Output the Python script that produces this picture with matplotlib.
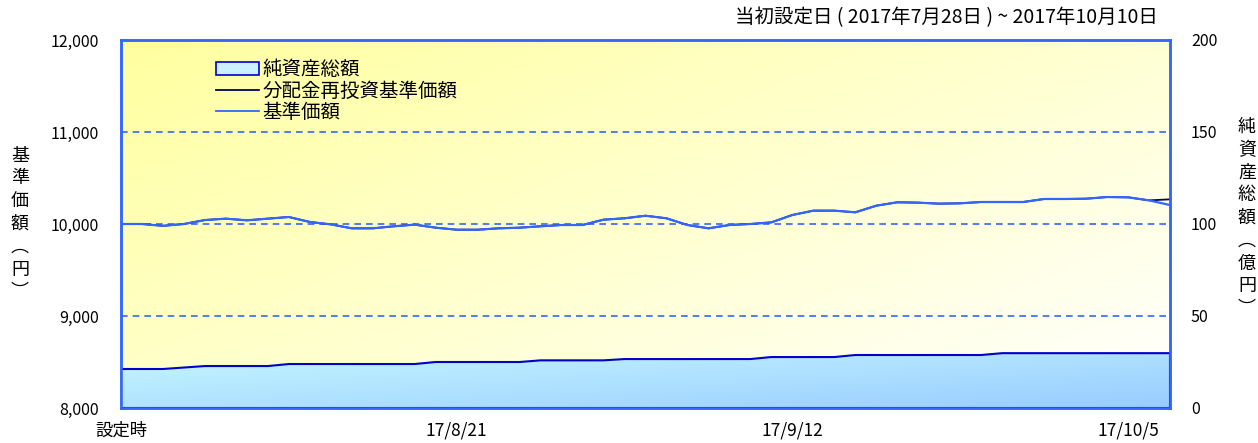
import matplotlib
matplotlib.use("Agg")
import matplotlib.pyplot as plt
import numpy as np
from matplotlib.patches import Patch
from matplotlib.lines import Line2D
from matplotlib.colors import LinearSegmentedColormap

plt.rcParams['font.family'] = ['Noto Sans CJK JP', 'DejaVu Sans']

# business-day index 0..50 (2017/7/28 - 2017/10/10)
tick_idx = [0, 16, 32, 48]
tick_labels = ['設定時', '17/8/21', '17/9/12', '17/10/5']

# 基準価額 (円)
nav = [10000, 10000, 9980, 10000, 10043, 10058, 10040, 10058, 10076, 10022,
       9996, 9953, 9953, 9975, 9993, 9960, 9938, 9938, 9953, 9960,
       9975, 9989, 9989, 10047, 10062, 10090, 10062, 9989, 9953, 9989,
       10000, 10018, 10098, 10145, 10145, 10127, 10199, 10236, 10232, 10221,
       10225, 10239, 10239, 10239, 10272, 10272, 10275, 10293, 10290, 10257,
       10206]
# 分配金再投資基準価額 (円)
nav_reinv = nav[:49] + [10257, 10268]
# 純資産総額 (億円)
assets = [21.2, 21.2, 21.2, 22.0, 22.8, 22.8, 22.8, 22.8, 23.9, 23.9,
          23.9, 23.9, 23.9, 23.9, 23.9, 25.0, 25.0, 25.0, 25.0, 25.0,
          25.9, 25.9, 25.9, 25.9, 26.6, 26.6, 26.6, 26.6, 26.6, 26.6,
          26.6, 27.7, 27.7, 27.7, 27.7, 28.8, 28.8, 28.8, 28.8, 28.8,
          28.8, 28.8, 29.8, 29.8, 29.8, 29.8, 29.8, 29.8, 29.8, 29.8,
          29.8]

x = np.arange(len(nav))
blue = '#3366ff'
navy = '#000066'

fig = plt.figure(figsize=(12.58, 4.43), dpi=100)
ax = fig.add_axes([121 / 1258, 35 / 443, 1049 / 1258, 368 / 443])
ax.set_xlim(0, len(nav) - 1)
ax.set_ylim(8000, 12000)

# yellow-to-white gradient background
bg = LinearSegmentedColormap.from_list('bg', ['#ffffa0', '#ffffff'])
gx, gy = np.meshgrid(np.linspace(0, 1, 200), np.linspace(0, 1, 100))
ax.imshow(0.55 * gx + 0.45 * gy, cmap=bg, aspect='auto', zorder=0,
          extent=[0, len(nav) - 1, 8000, 12000], origin='upper')

for v in [9000, 10000, 11000]:
    ax.axhline(v, color=blue, lw=1.2, ls=(0, (4, 3)), zorder=1)

ax.plot(x, nav_reinv, color=navy, lw=1.3, zorder=3)
ax.plot(x, nav, color=blue, lw=1.6, zorder=4)

ax2 = ax.twinx()
ax2.set_ylim(0, 200)
poly = ax2.fill_between(x, 0, assets, facecolor='none', edgecolor='#0000cc', lw=1.5, zorder=2)
fc = LinearSegmentedColormap.from_list('fc', ['#c8faff', '#99ccff'])
img = ax2.imshow(0.5 * gx + 0.5 * gy, cmap=fc, aspect='auto', zorder=1,
                 extent=[0, len(nav) - 1, 0, 35], origin='upper')
img.set_clip_path(poly.get_paths()[0], transform=ax2.transData)
ax2.set_xlim(0, len(nav) - 1)
ax2.vlines(0, 0, assets[0], color='#0000cc', lw=1.5, zorder=2)

for a in (ax, ax2):
    for s in a.spines.values():
        s.set_color(blue)
        s.set_linewidth(1.8)

ax.set_xticks(tick_idx)
ax.set_xticklabels(tick_labels)
ax.tick_params(axis='x', direction='in', length=7, color=blue, pad=10, labelsize=12.5)
ax.set_yticks([8000, 9000, 10000, 11000, 12000])
ax.set_yticklabels(['8,000', '9,000', '10,000', '11,000', '12,000'])
ax.tick_params(axis='y', length=0, pad=16, labelsize=11.5)
ax2.set_yticks([0, 50, 100, 150, 200])
ax2.tick_params(axis='y', length=0, pad=15, labelsize=11.5)

fig.text(20 / 1258, 1 - 224 / 443, '基\n準\n価\n額\n︵\n円\n︶', ha='center', va='center',
         fontsize=13, linespacing=1.34)
fig.text(1247 / 1258, 1 - 218 / 443, '純\n資\n産\n総\n額\n︵\n億\n円\n︶', ha='center', va='center',
         fontsize=13, linespacing=1.34)
fig.text(1158 / 1258, 1 - 18 / 443, '当初設定日 ( 2017年7月28日 ) ~ 2017年10月10日',
         ha='right', va='center', fontsize=14)

handles = [Patch(facecolor='#ccf0ff', edgecolor='#0000cc', lw=1.2),
           Line2D([], [], color=navy, lw=1.3),
           Line2D([], [], color=blue, lw=1.3)]
ax.legend(handles, ['純資産総額', '分配金再投資基準価額', '基準価額'],
          loc='upper left', bbox_to_anchor=(0.074, 0.995), frameon=False,
          fontsize=14, handlelength=2.2, handletextpad=0.2, labelspacing=0.02)

fig.savefig('out.png', dpi=100)
